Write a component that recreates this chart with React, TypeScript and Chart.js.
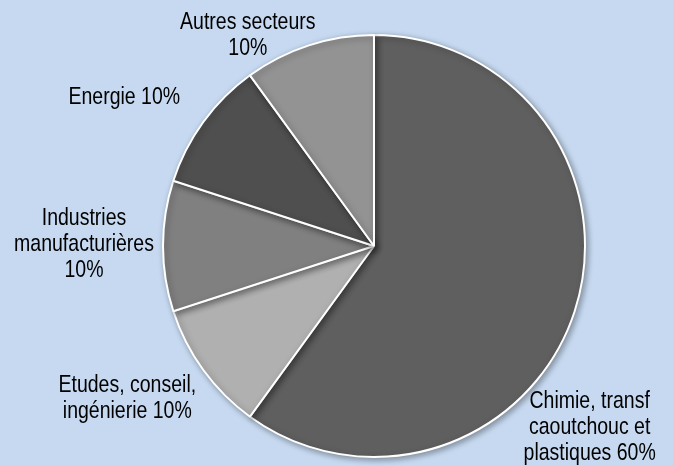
import React, { useEffect, useRef } from "react";
import { Chart, registerables } from "chart.js";

Chart.register(...registerables);

const categories = [
  "Chimie, transf caoutchouc et plastiques",
  "Etudes, conseil, ingénierie",
  "Industries manufacturières",
  "Energie",
  "Autres secteurs",
];
const values = [60, 10, 10, 10, 10];
const labelLines = [
  ["Chimie, transf", "caoutchouc et", "plastiques 60%"],
  ["Etudes, conseil,", "ingénierie 10%"],
  ["Industries", "manufacturières", "10%"],
  ["Energie 10%"],
  ["Autres secteurs", "10%"],
];
const sliceColors = ["#5f5f5f", "#b0b0b0", "#808080", "#4f4f4f", "#939393"];
// label nudges from the slice's outer mid-point (pixels)
const labelNudges = [
  [15, 116],
  [-76, 28],
  [-79, -2],
  [-79, -25],
  [-61, -10],
];

const shadowPlugin = {
  id: "shadow",
  beforeDatasetsDraw(chart: any) {
    const ctx = chart.ctx;
    ctx.save();
    ctx.shadowColor = "rgba(0,0,0,0.35)";
    ctx.shadowBlur = 6;
    ctx.shadowOffsetX = 2;
    ctx.shadowOffsetY = 2;
  },
  afterDatasetsDraw(chart: any) {
    chart.ctx.restore();
  },
};

const labelPlugin = {
  id: "sliceLabels",
  afterDraw(chart: any) {
    const ctx = chart.ctx;
    const meta = chart.getDatasetMeta(0);
    ctx.save();
    ctx.fillStyle = "#000";
    ctx.font = "19.5px 'Liberation Sans', Arial, sans-serif";
    ctx.textAlign = "center";
    ctx.textBaseline = "middle";
    const lh = 26;
    meta.data.forEach((arc: any, i: number) => {
      const p = arc.getProps(["x", "y", "startAngle", "endAngle", "outerRadius"], true);
      const mid = (p.startAngle + p.endAngle) / 2;
      const cx = p.x + Math.cos(mid) * p.outerRadius + labelNudges[i][0];
      const cy = p.y + Math.sin(mid) * p.outerRadius + labelNudges[i][1];
      const lines = labelLines[i];
      lines.forEach((t, j) => {
        const y = cy + (j - (lines.length - 1) / 2) * lh;
        ctx.save();
        ctx.translate(cx, y);
        ctx.scale(1, 1.22);
        ctx.fillText(t, 0, 0);
        ctx.restore();
      });
    });
    ctx.restore();
  },
};

export default function App() {
  const ref = useRef<HTMLCanvasElement>(null);
  useEffect(() => {
    if (!ref.current) return;
    const chart = new Chart(ref.current, {
      type: "pie",
      data: {
        labels: categories,
        datasets: [
          {
            data: values,
            backgroundColor: sliceColors,
            borderColor: "#ffffff",
            borderWidth: 2,
          },
        ],
      },
      options: {
        animation: false,
        responsive: false,
        maintainAspectRatio: false,
        layout: { padding: { top: 34, bottom: 8, left: 75, right: 0 } },
        plugins: {
          legend: { display: false },
          tooltip: { enabled: false },
        },
      },
      plugins: [shadowPlugin, labelPlugin],
    });
    return () => chart.destroy();
  }, []);
  return (
    <div
      style={{
        position: "fixed",
        left: 0,
        top: 0,
        width: 673,
        height: 466,
        background: "#c6d9f0",
      }}
    >
      <canvas ref={ref} width={673} height={466} style={{ display: "block" }} />
    </div>
  );
}
